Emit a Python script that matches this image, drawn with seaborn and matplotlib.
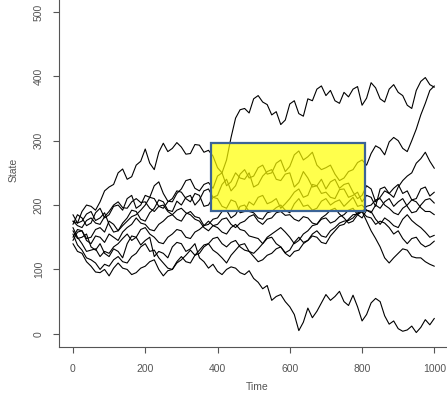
import matplotlib.pyplot as plt
from matplotlib.patches import Rectangle
import pandas as pd
import seaborn as sns

# State of each simulated path, every 25 steps ...
path_a = [175, 190, 198, 205, 228, 250, 240, 262, 287, 255, 296, 288, 290, 280, 293, 285, 258, 270, 335, 350, 365,
          360, 340, 325, 357, 342, 365, 380, 370, 362, 375, 380, 355, 390, 365, 380, 375, 355, 378, 398, 383]
path_b = [160, 150, 135, 140, 120, 128, 140, 150, 145, 120, 125, 135, 140, 132, 118, 102, 97, 100, 102, 92, 86,
          70, 52, 61, 42, 5, 40, 35, 61, 58, 50, 60, 20, 48, 50, 15, 8, 6, 2, 22, 24]
path_c = [170, 180, 172, 195, 185, 200, 210, 195, 215, 230, 218, 205, 225, 240, 222, 235, 245, 230, 250, 240, 228,
          245, 255, 238, 250, 235, 242, 230, 225, 240, 232, 220, 215, 225, 212, 218, 228, 245, 265, 282, 257]
path_d = [150, 160, 150, 165, 175, 160, 180, 190, 175, 195, 205, 190, 200, 215, 208, 225, 215, 240, 230, 255, 245,
          262, 250, 270, 260, 284, 275, 262, 258, 248, 242, 255, 270, 280, 288, 298, 300, 283, 318, 358, 385]
path_e = [185, 175, 190, 180, 170, 160, 175, 185, 200, 210, 195, 210, 220, 205, 215, 200, 210, 195, 205, 190, 200,
          215, 205, 195, 210, 225, 215, 230, 220, 210, 225, 215, 205, 212, 225, 218, 232, 222, 210, 228, 220]
path_f = [145, 160, 140, 150, 155, 145, 165, 180, 170, 160, 175, 185, 175, 190, 180, 170, 180, 192, 185, 200, 188,
          178, 190, 200, 188, 210, 200, 195, 210, 205, 198, 212, 200, 188, 195, 210, 205, 198, 190, 208, 203]
path_g = [165, 140, 130, 120, 125, 140, 155, 150, 165, 150, 140, 155, 160, 148, 162, 175, 165, 155, 170, 160, 150,
          140, 155, 165, 150, 145, 160, 170, 180, 175, 185, 195, 180, 190, 170, 175, 165, 185, 170, 158, 153]
path_h = [155, 130, 115, 100, 105, 120, 110, 125, 140, 130, 110, 100, 115, 130, 125, 140, 150, 135, 145, 130, 125,
          140, 150, 135, 120, 130, 145, 150, 140, 160, 170, 185, 190, 180, 175, 165, 160, 140, 150, 135, 144]
path_i = [140, 125, 105, 95, 90, 110, 100, 95, 105, 115, 90, 100, 120, 110, 130, 140, 125, 110, 130, 140, 120,
          115, 125, 135, 130, 150, 145, 160, 150, 165, 175, 180, 190, 160, 135, 110, 125, 130, 118, 112, 105]
path_j = [175, 165, 180, 170, 190, 205, 195, 210, 205, 190, 200, 185, 195, 185, 175, 160, 170, 180, 165, 175, 185,
          170, 180, 190, 185, 175, 180, 170, 185, 195, 180, 175, 190, 200, 210, 195, 185, 200, 205, 190, 185]

# ... and the wiggle halfway between those readings (12.5, 37.5, ...)
mid_a = [172, 200, 192, 222, 232, 256, 244, 268, 265, 282, 283, 297, 279, 294, 282, 276, 250, 305, 348, 343,
         370, 356, 345, 332, 362, 338, 362, 385, 378, 358, 368, 384, 366, 382, 360, 387, 370, 350, 392, 387]
mid_b = [148, 155, 130, 125, 132, 118, 152, 138, 150, 128, 118, 142, 128, 140, 112, 108, 92, 104, 95, 98,
         80, 75, 58, 50, 30, 18, 25, 48, 52, 66, 44, 42, 30, 55, 28, 20, 4, 12, 10, 14]
mid_c = [185, 168, 188, 180, 198, 192, 215, 200, 212, 236, 206, 218, 238, 226, 232, 226, 250, 236, 242, 250,
         232, 252, 240, 248, 228, 252, 228, 240, 236, 226, 234, 210, 230, 205, 222, 212, 238, 250, 272, 268]
mid_d = [162, 148, 162, 158, 170, 172, 192, 178, 188, 208, 192, 206, 212, 200, 222, 212, 232, 222, 248, 242,
         258, 248, 265, 252, 278, 270, 282, 255, 262, 238, 252, 266, 262, 292, 278, 305, 288, 300, 340, 378]
mid_e = [172, 186, 176, 188, 158, 168, 182, 192, 212, 198, 205, 222, 210, 218, 198, 212, 198, 208, 188, 205,
         212, 202, 210, 202, 220, 212, 232, 218, 212, 224, 212, 220, 215, 198, 228, 226, 218, 208, 225, 214]
mid_f = [158, 145, 152, 142, 150, 158, 170, 172, 162, 170, 182, 178, 186, 182, 168, 178, 190, 180, 198, 190,
         180, 188, 196, 192, 202, 198, 192, 206, 200, 208, 205, 198, 192, 200, 205, 198, 210, 188, 200, 210]
mid_g = [150, 128, 132, 128, 135, 148, 145, 162, 155, 142, 150, 162, 150, 158, 168, 168, 158, 165, 162, 152,
         148, 150, 160, 158, 140, 155, 168, 178, 172, 182, 192, 185, 192, 178, 180, 168, 178, 176, 165, 150]
mid_h = [138, 118, 110, 108, 115, 112, 120, 135, 128, 118, 102, 110, 122, 122, 135, 148, 140, 142, 135, 128,
         132, 148, 140, 125, 128, 140, 152, 142, 152, 168, 178, 186, 182, 170, 172, 155, 148, 148, 140, 138]
mid_i = [128, 112, 96, 100, 102, 102, 92, 102, 112, 100, 98, 112, 112, 122, 138, 130, 118, 122, 138, 128,
         112, 122, 132, 126, 142, 142, 155, 152, 160, 172, 176, 188, 175, 148, 118, 118, 132, 120, 118, 108]
mid_j = [168, 176, 172, 182, 200, 196, 205, 204, 195, 198, 190, 192, 188, 178, 165, 168, 178, 170, 172, 182,
         175, 178, 188, 184, 178, 182, 172, 180, 192, 186, 172, 185, 198, 208, 200, 188, 195, 208, 196, 190]

paths = [path_a, path_b, path_c, path_d, path_e, path_f, path_g, path_h, path_i, path_j]
mids = [mid_a, mid_b, mid_c, mid_d, mid_e, mid_f, mid_g, mid_h, mid_i, mid_j]

# Highlighted window
box_start, box_end = 383, 807
box_low, box_high = 190, 296

x_ticks = [0, 200, 400, 600, 800, 1000]
y_ticks = [0, 100, 200, 300, 400, 500]

# Long-form table for seaborn: readings and half-way wiggles interleaved
time = [i * 12.5 for i in range(81)]
frames = []
for k, (main, mid) in enumerate(zip(paths, mids)):
    state = [v for pair in zip(main, mid) for v in pair] + [main[-1]]
    frames.append(pd.DataFrame({"time": time, "state": state, "path": k}))
df = pd.concat(frames, ignore_index=True)

sns.set_style("ticks")
plt.rcParams["font.family"] = ["Liberation Sans", "DejaVu Sans"]

grey = "#555555"

fig = plt.figure(figsize=(4.47, 4.08), dpi=100)
ax = fig.add_axes([58.5 / 447, 61.3 / 408, 390.3 / 447, 347.7 / 408])

sns.lineplot(data=df, x="time", y="state", units="path", estimator=None,
             color="black", lw=0.8, ax=ax)

ax.add_patch(Rectangle((box_start, box_low), box_end - box_start, box_high - box_low,
                       facecolor=(1, 1, 0, 0.7), edgecolor="#3c6496", lw=1.6, zorder=3))

ax.set_xlim(-40, 1040)
ax.set_ylim(-20, 520)
ax.set_xticks(x_ticks)
ax.set_yticks(y_ticks)
ax.set_xticklabels([str(v) for v in x_ticks])
ax.set_yticklabels([str(v) for v in y_ticks], rotation=90, va="center")
ax.tick_params(axis="both", length=4.5, width=0.8, color=grey, labelcolor=grey, labelsize=7.5)
ax.tick_params(axis="x", pad=8)
ax.tick_params(axis="y", pad=6)

sns.despine(ax=ax)
for side in ["left", "bottom"]:
    ax.spines[side].set_color(grey)
    ax.spines[side].set_linewidth(0.8)

ax.set_xlabel("")
ax.set_ylabel("")
fig.text(257 / 447, (408 - 387) / 408, "Time", ha="center", va="center", fontsize=7.5, color=grey)
fig.text(14 / 447, (408 - 170) / 408, "State", ha="center", va="center", rotation=90, fontsize=7.5, color=grey)

fig.savefig("out.png", dpi=100)
